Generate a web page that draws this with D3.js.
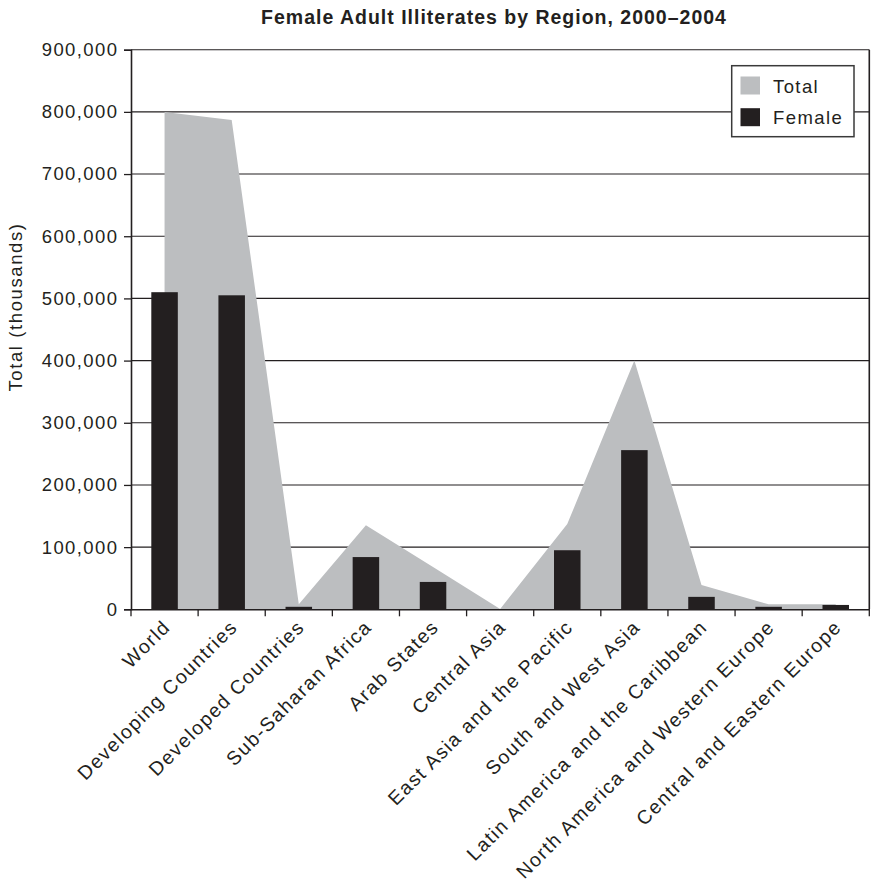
<!DOCTYPE html>
<html>
<head>
<meta charset="utf-8">
<script src="https://cdn.jsdelivr.net/npm/d3@7"></script>
<style>
  html, body { margin: 0; padding: 0; background: #fff; }
  svg { display: block; }
  text { font-family: "Liberation Sans", Arial, sans-serif; fill: #231f20; }
</style>
</head>
<body>
<svg id="chart" width="871" height="884"></svg>
<script>
const categories = [
  "World", "Developing Countries", "Developed Countries", "Sub-Saharan Africa",
  "Arab States", "Central Asia", "East Asia and the Pacific", "South and West Asia",
  "Latin America and the Caribbean", "North America and Western Europe",
  "Central and Eastern Europe"
];
const totalValues = [800000, 787000, 8000, 135000, 68000, 500, 137000, 400000, 39000, 8000, 8000];
const femaleValues = [510000, 505000, 4000, 84000, 44000, 300, 95000, 256000, 20000, 4000, 7000];
const yTicks = [0, 100000, 200000, 300000, 400000, 500000, 600000, 700000, 800000, 900000];
const titleText = "Female Adult Illiterates by Region, 2000\u20132004";
const yAxisTitle = "Total (thousands)";
const legendItems = ["Total", "Female"];

const ink = "#231f20";
const grey = "#bcbec0";

const svg = d3.select("#chart");
const pLeft = 131, pRight = 869.3, pTop = 49.7, pBottom = 609.3;

const x = d3.scaleBand().domain(categories).range([pLeft, pRight]).padding(0);
const y = d3.scaleLinear().domain([0, 900000]).range([pBottom, pTop]);
const cx = d => x(d) + x.bandwidth() / 2;

// gridlines
svg.append("g").selectAll("line").data(yTicks.filter(t => t > 0)).join("line")
  .attr("x1", pLeft).attr("x2", pRight)
  .attr("y1", d => y(d)).attr("y2", d => y(d))
  .attr("stroke", ink).attr("stroke-width", 1.1);

// right frame
svg.append("line").attr("x1", pRight).attr("x2", pRight).attr("y1", pTop).attr("y2", pBottom)
  .attr("stroke", ink).attr("stroke-width", 1.6);

// area (Total)
const totalData = categories.map((c, i) => ({ c, v: totalValues[i] }));
const area = d3.area().x(d => cx(d.c)).y0(y(0)).y1(d => y(d.v)).curve(d3.curveLinear);
svg.append("path").datum(totalData).attr("d", area).attr("fill", grey);

// bars (Female)
const barW = x.bandwidth() * 0.395;
svg.append("g").selectAll("rect").data(categories).join("rect")
  .attr("x", d => cx(d) - barW / 2)
  .attr("width", barW)
  .attr("y", (d, i) => y(femaleValues[i]))
  .attr("height", (d, i) => y(0) - y(femaleValues[i]))
  .attr("fill", ink);

// y axis
const yAxis = svg.append("g").attr("transform", `translate(${pLeft},0)`)
  .call(d3.axisLeft(y).tickValues(yTicks).tickFormat(d3.format(",")).tickSize(7).tickPadding(7));
yAxis.select(".domain").attr("stroke", ink).attr("stroke-width", 1.6);
yAxis.selectAll(".tick line").attr("stroke", ink).attr("stroke-width", 1.3);
yAxis.selectAll(".tick text")
  .style("font-family", "'Liberation Sans', Arial, sans-serif")
  .style("font-size", "18.5px").style("letter-spacing", "1.4px")
  .attr("fill", ink).attr("dx", "1.4px");

// x axis
const xAxis = svg.append("g").attr("transform", `translate(0,${pBottom})`)
  .call(d3.axisBottom(x).tickSize(0).tickFormat(""));
xAxis.select(".domain").attr("stroke", ink).attr("stroke-width", 1.6);
xAxis.selectAll(".tick").remove();
const bounds = categories.map(c => x(c)).concat([pRight]);
svg.append("g").selectAll("line").data(bounds).join("line")
  .attr("x1", d => d).attr("x2", d => d)
  .attr("y1", pBottom).attr("y2", pBottom + 7)
  .attr("stroke", ink).attr("stroke-width", 1.3);

svg.append("g").selectAll("text").data(categories).join("text")
  .attr("transform", d => `translate(${cx(d) + 7},${pBottom + 19}) rotate(-45)`)
  .attr("text-anchor", "end")
  .style("font-size", "19.5px").style("letter-spacing", "1.5px")
  .text(d => d);

// y axis title
svg.append("text")
  .attr("transform", "translate(22,307) rotate(-90)")
  .attr("text-anchor", "middle")
  .style("font-size", "18.5px").style("letter-spacing", "1.6px")
  .text(yAxisTitle);

// title
svg.append("text")
  .attr("x", 494).attr("y", 24)
  .attr("text-anchor", "middle")
  .style("font-size", "19.5px").style("font-weight", "bold").style("letter-spacing", "1px")
  .text(titleText);

// legend
const lg = svg.append("g");
lg.append("rect").attr("x", 731.7).attr("y", 65.7).attr("width", 122.3).attr("height", 71)
  .attr("fill", "#fff").attr("stroke", "#3a3a3a").attr("stroke-width", 1.5);
const legColors = [grey, ink];
lg.selectAll("rect.sw").data(legendItems).join("rect").attr("class", "sw")
  .attr("x", 740.5).attr("y", (d, i) => 76.5 + i * 31.7)
  .attr("width", 19.5).attr("height", 18)
  .attr("fill", (d, i) => legColors[i]);
lg.selectAll("text").data(legendItems).join("text")
  .attr("x", 773).attr("y", (d, i) => 92.5 + i * 31.7)
  .style("font-size", "18.5px").style("letter-spacing", "1.4px")
  .text(d => d);
</script>
</body>
</html>
